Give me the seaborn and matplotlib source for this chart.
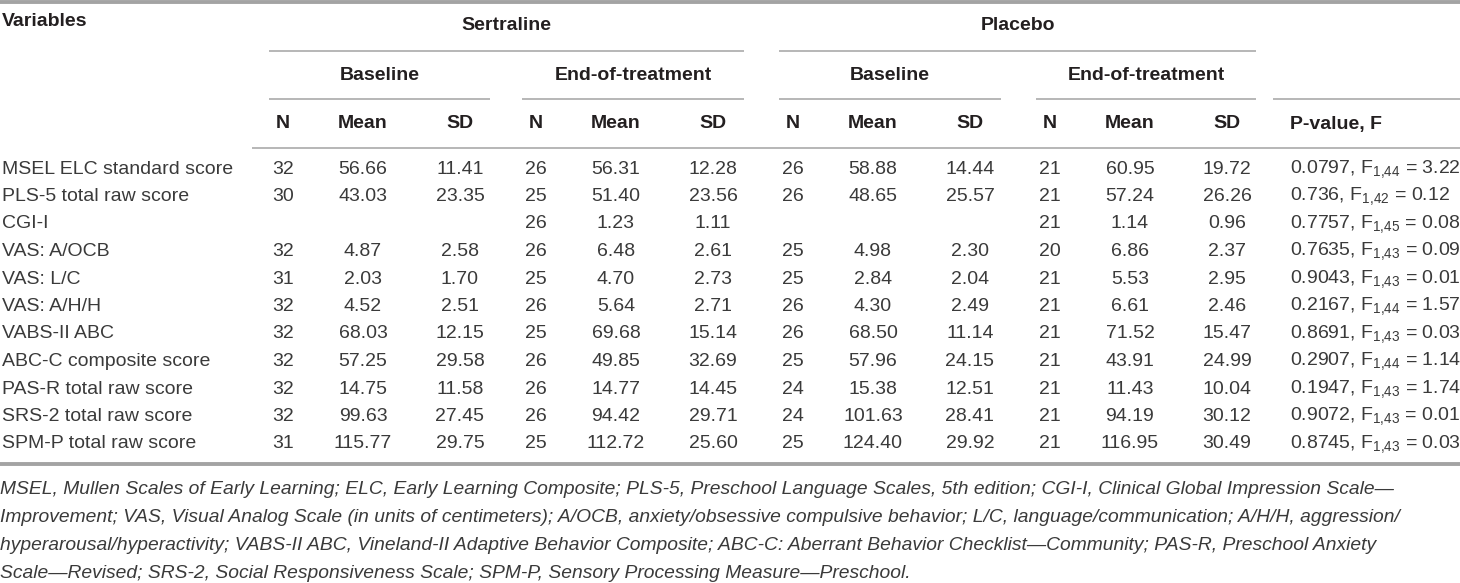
import matplotlib
matplotlib.use('Agg')
import matplotlib.pyplot as plt
import seaborn as sns

# table contents
variables = ['MSEL ELC standard score', 'PLS-5 total raw score', 'CGI-I', 'VAS: A/OCB',
             'VAS: L/C', 'VAS: A/H/H', 'VABS-II ABC', 'ABC-C composite score',
             'PAS-R total raw score', 'SRS-2 total raw score', 'SPM-P total raw score']

sert_base_n = [32, 30, None, 32, 31, 32, 32, 32, 32, 32, 31]
sert_base_mean = [56.66, 43.03, None, 4.87, 2.03, 4.52, 68.03, 57.25, 14.75, 99.63, 115.77]
sert_base_sd = [11.41, 23.35, None, 2.58, 1.70, 2.51, 12.15, 29.58, 11.58, 27.45, 29.75]

sert_end_n = [26, 25, 26, 26, 25, 26, 25, 26, 26, 26, 25]
sert_end_mean = [56.31, 51.40, 1.23, 6.48, 4.70, 5.64, 69.68, 49.85, 14.77, 94.42, 112.72]
sert_end_sd = [12.28, 23.56, 1.11, 2.61, 2.73, 2.71, 15.14, 32.69, 14.45, 29.71, 25.60]

plac_base_n = [26, 26, None, 25, 25, 26, 26, 25, 24, 24, 25]
plac_base_mean = [58.88, 48.65, None, 4.98, 2.84, 4.30, 68.50, 57.96, 15.38, 101.63, 124.40]
plac_base_sd = [14.44, 25.57, None, 2.30, 2.04, 2.49, 11.14, 24.15, 12.51, 28.41, 29.92]

plac_end_n = [21, 21, 21, 20, 21, 21, 21, 21, 21, 21, 21]
plac_end_mean = [60.95, 57.24, 1.14, 6.86, 5.53, 6.61, 71.52, 43.91, 11.43, 94.19, 116.95]
plac_end_sd = [19.72, 26.26, 0.96, 2.37, 2.95, 2.46, 15.47, 24.99, 10.04, 30.12, 30.49]

p_values = ['0.0797', '0.736', '0.7757', '0.7635', '0.9043', '0.2167', '0.8691',
            '0.2907', '0.1947', '0.9072', '0.8745']
f_df1 = [1, 1, 1, 1, 1, 1, 1, 1, 1, 1, 1]
f_df2 = [44, 42, 45, 43, 43, 44, 43, 44, 43, 43, 43]
f_values = [3.22, 0.12, 0.08, 0.09, 0.01, 1.57, 0.03, 1.14, 1.74, 0.01, 0.03]

groups = ['Sertraline', 'Placebo']
periods = ['Baseline', 'End-of-treatment']
stats = ['N', 'Mean', 'SD']

footnote = [
    'MSEL, Mullen Scales of Early Learning; ELC, Early Learning Composite; PLS-5, Preschool Language Scales, 5th edition; CGI-I, Clinical Global Impression Scale\u2014',
    'Improvement; VAS, Visual Analog Scale (in units of centimeters); A/OCB, anxiety/obsessive compulsive behavior; L/C, language/communication; A/H/H, aggression/',
    'hyperarousal/hyperactivity; VABS-II ABC, Vineland-II Adaptive Behavior Composite; ABC-C: Aberrant Behavior Checklist\u2014Community; PAS-R, Preschool Anxiety',
    'Scale\u2014Revised; SRS-2, Social Responsiveness Scale; SPM-P, Sensory Processing Measure\u2014Preschool.',
]

sns.set_theme(style='white')
plt.rcParams['font.family'] = ['Liberation Sans', 'DejaVu Sans']
plt.rcParams['mathtext.fontset'] = 'custom'
plt.rcParams['mathtext.rm'] = 'Liberation Sans'
plt.rcParams['mathtext.it'] = 'Liberation Sans'

W, H = 1460, 583
fig = plt.figure(figsize=(W / 100, H / 100), dpi=100)
ax = fig.add_axes([0, 0, 1, 1])
ax.set_xlim(0, W)
ax.set_ylim(H, 0)
ax.axis('off')

fs = 14.0
line_c = '#a3a3a3'
txt_c = '#231f20'
body_c = '#3a3a3a'

# layout: start x of each N/Mean/SD block, offsets of the three columns
block_start = [269, 522, 779, 1036]
block_end = [490, 744, 1001, 1256]
col_off = [14, 94, 191]
pcol_x = 1290
row_y0, row_dy = 169, 27.5

# rules
ax.hlines(2, 0, W, color=line_c, lw=2.8)
ax.hlines([51, 51], [269, 779], [744, 1256], color=line_c, lw=1.1)
ax.hlines([99] * 5, block_start + [1273], block_end + [W], color=line_c, lw=1.1)
ax.hlines(148, 252, W, color=line_c, lw=1.1)
ax.hlines(464, 0, W, color=line_c, lw=2.8)

# headers
ax.text(2, 22, 'Variables', ha='left', va='center', fontsize=fs, fontweight='bold', color=txt_c)
for g, name in enumerate(groups):
    x0, x1 = block_start[2 * g], block_end[2 * g + 1]
    ax.text((x0 + x1) / 2, 26, name, ha='center', va='center', fontsize=fs,
            fontweight='bold', color=txt_c)
for b in range(4):
    ax.text((block_start[b] + block_end[b]) / 2, 75, periods[b % 2], ha='center',
            va='center', fontsize=fs, fontweight='bold', color=txt_c)
    for k, s in enumerate(stats):
        ax.text(block_start[b] + col_off[k], 124, s, ha='center', va='center',
                fontsize=fs, fontweight='bold', color=txt_c)
ax.text(pcol_x, 124, 'P-value, F', ha='left', va='center', fontsize=fs,
        fontweight='bold', color=txt_c)

# body
blocks = [
    (sert_base_n, sert_base_mean, sert_base_sd),
    (sert_end_n, sert_end_mean, sert_end_sd),
    (plac_base_n, plac_base_mean, plac_base_sd),
    (plac_end_n, plac_end_mean, plac_end_sd),
]


def fmt(v, is_n=False):
    if v is None:
        return ''
    return f'{v:d}' if is_n else f'{v:.2f}'


for i, var in enumerate(variables):
    y = row_y0 + i * row_dy
    ax.text(2, y, var, ha='left', va='center', fontsize=fs, color=body_c)
    for b, (ns, means, sds) in enumerate(blocks):
        cells = [fmt(ns[i], True), fmt(means[i]), fmt(sds[i])]
        for k, c in enumerate(cells):
            ax.text(block_start[b] + col_off[k], y, c, ha='center', va='center',
                    fontsize=fs, color=body_c)
    label = (f'{p_values[i]}, F$_{{\\mathregular{{{f_df1[i]}{{,}}{f_df2[i]}}}}}$'
             f' = {f_values[i]:.2f}')
    ax.text(pcol_x, y, label, ha='left', va='center', fontsize=fs, color=body_c)

# footnote, fitted to the reference line width
foot_fam = ['Liberation Sans Narrow', 'Liberation Sans', 'DejaVu Sans']
foot_texts = []
for j, line in enumerate(footnote):
    t = ax.text(0, 489 + j * 28, line, ha='left', va='center', fontsize=fs,
                style='italic', family=foot_fam, color=body_c)
    foot_texts.append(t)
renderer = fig.canvas.get_renderer()
w = foot_texts[1].get_window_extent(renderer).width
new_fs = fs * 1405 / w
for t in foot_texts:
    t.set_fontsize(new_fs)

fig.savefig('out.png', dpi=100)
